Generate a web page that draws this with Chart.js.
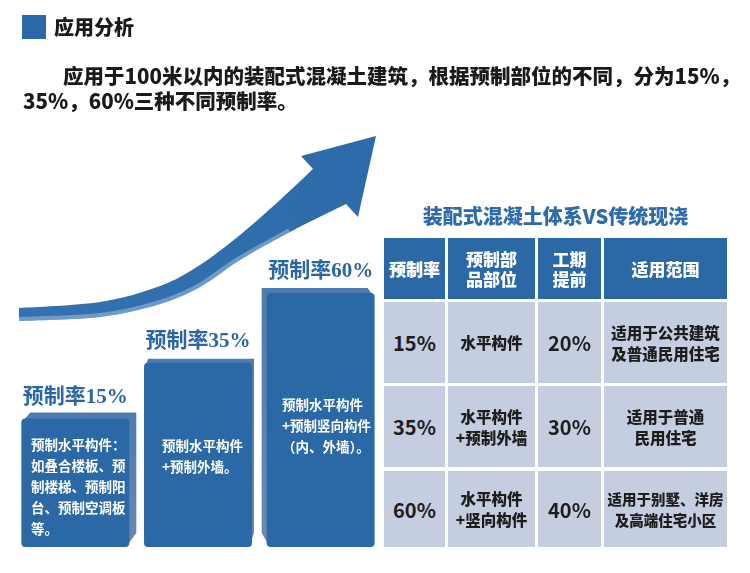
<!DOCTYPE html>
<html>
<head>
<meta charset="utf-8">
<script src="https://cdn.jsdelivr.net/npm/chart.js@4/dist/chart.umd.min.js"></script>
<style>
  html, body { margin:0; padding:0; background:#fff; }
  body { width:750px; height:573px; position:relative; overflow:hidden;
         font-family:"Noto Sans CJK SC","Noto Sans",sans-serif; }
  #c { position:absolute; left:0; top:0; }
  .abs { position:absolute; }
  #sq { left:22px; top:15px; width:24px; height:24px; background:#2b6aa9; }
  #ttl { left:54px; top:13px; font-size:20px; font-weight:900; color:#1a1a1a; line-height:28px; }
  #para { left:23px; top:63px; width:725px; font-size:20.5px; font-weight:900; color:#1a1a1a;
          line-height:25px; text-indent:40px; }
  #tt { left:384px; top:203px; width:343px; text-align:center; font-size:20px; font-weight:900;
        color:#2e6bab; line-height:26px; }
  .cell { position:absolute; display:flex; align-items:center; justify-content:center;
          text-align:center; font-weight:900; box-sizing:border-box; }
  .hd { background:#2b68a6; color:#fff; font-size:17px; line-height:20px; }
  .bd { background:#c5cde1; color:#1d1d1d; font-size:15.5px; line-height:21px; }
  .pct { font-size:20px; font-weight:700; }
</style>
</head>
<body>
<canvas id="c" width="750" height="573"></canvas>
<div id="sq" class="abs"></div>
<div id="ttl" class="abs">应用分析</div>
<div id="para" class="abs">应用于100米以内的装配式混凝土建筑，根据预制部位的不同，分为15%，35%，60%三种不同预制率。</div>
<div id="tt" class="abs">装配式混凝土体系VS传统现浇</div>
<div id="table"></div>
<script>
// ---- data ----
const categories = ['预制率15%', '预制率35%', '预制率60%'];
const rates = [15, 35, 60];
const barNotes = [
  ['预制水平构件：', '如叠合楼板、预', '制楼梯、预制阳', '台、预制空调板', '等。'],
  ['预制水平构件', '+预制外墙。'],
  ['预制水平构件', '+预制竖向构件', '（内、外墙）。']
];
const tableHeaders = ['预制率', '预制部\n品部位', '工期\n提前', '适用范围'];
const tableRates = ['15%', '35%', '60%'];
const tableParts = ['水平构件', '水平构件\n+预制外墙', '水平构件\n+竖向构件'];
const tableLead = ['20%', '30%', '40%'];
const tableScope = ['适用于公共建筑\n及普通民用住宅', '适用于普通\n民用住宅', '适用于别墅、洋房\n及高端住宅小区'];

// ---- table (HTML) ----
const colX = [[384, 61], [448, 87], [538, 63], [604, 123]];
const rowY = [[238, 61], [302, 81], [386, 81], [471, 76]];
const tbl = document.getElementById('table');
function addCell(r, c, text, cls, extraStyle) {
  const d = document.createElement('div');
  d.className = 'cell ' + cls;
  d.style.left = colX[c][0] + 'px'; d.style.width = colX[c][1] + 'px';
  d.style.top = rowY[r][0] + 'px'; d.style.height = rowY[r][1] + 'px';
  if (extraStyle) d.style.cssText += extraStyle;
  d.innerHTML = text.split('\n').join('<br>');
  tbl.appendChild(d);
}
tableHeaders.forEach((h, c) => addCell(0, c, h, 'hd'));
for (let i = 0; i < tableRates.length; i++) {
  addCell(i + 1, 0, tableRates[i], 'bd pct');
  addCell(i + 1, 1, tableParts[i], 'bd');
  addCell(i + 1, 2, tableLead[i], 'bd pct');
  addCell(i + 1, 3, tableScope[i], 'bd', i === 2 ? 'font-size:14.5px;' : '');
}

// ---- drawing helpers ----
function smoothPath(ctx, pts, move) {
  if (move) ctx.moveTo(pts[0][0], pts[0][1]); else ctx.lineTo(pts[0][0], pts[0][1]);
  for (let i = 0; i < pts.length - 1; i++) {
    const p0 = pts[Math.max(0, i - 1)], p1 = pts[i], p2 = pts[i + 1], p3 = pts[Math.min(pts.length - 1, i + 2)];
    const c1x = p1[0] + (p2[0] - p0[0]) / 6, c1y = p1[1] + (p2[1] - p0[1]) / 6;
    const c2x = p2[0] - (p3[0] - p1[0]) / 6, c2y = p2[1] - (p3[1] - p1[1]) / 6;
    ctx.bezierCurveTo(c1x, c1y, c2x, c2y, p2[0], p2[1]);
  }
}
const arrowTop = [[19, 308], [100, 302], [160, 286], [200, 265], [240, 235], [280, 200], [313, 169]];
const arrowBot = [[346, 204], [290, 232], [240, 260], [200, 287], [160, 304], [100, 317], [19, 321]];

const decor = {
  id: 'decor',
  beforeDatasetsDraw(chart) {
    const ctx = chart.ctx;
    // arrow
    ctx.save();
    ctx.beginPath();
    smoothPath(ctx, arrowTop, true);
    ctx.lineTo(301, 156);
    ctx.lineTo(376, 136);
    ctx.lineTo(358, 217);
    ctx.lineTo(346, 204);
    smoothPath(ctx, arrowBot, false);
    ctx.closePath();
    const g = ctx.createLinearGradient(0, 320, 380, 130);
    g.addColorStop(0, '#3572b0');
    g.addColorStop(1, '#2d6aa9');
    ctx.fillStyle = g;
    ctx.fill();
    ctx.clip();
    ctx.beginPath();
    smoothPath(ctx, arrowBot.slice(1), true);
    ctx.strokeStyle = 'rgba(170,198,230,0.5)';
    ctx.lineWidth = 8;
    ctx.stroke();
    ctx.restore();

    // 3D side faces of bars
    const meta = chart.getDatasetMeta(0);
    const offs = [[7, -6], [2, -4], [-5, -5]];
    meta.data.forEach((b, i) => {
      const l = b.x - b.width / 2, r = b.x + b.width / 2, t = b.y, bt = b.base;
      const [dx, dy] = offs[i];
      ctx.save();
      ctx.beginPath();
      if (dx >= 0) {
        ctx.moveTo(l + 2, t + 2);
        ctx.lineTo(l + 2 + dx, t + dy);
        ctx.lineTo(r + dx, t + dy);
        ctx.lineTo(r + dx, bt - 14);
        ctx.lineTo(r - 2, bt - 2);
      } else {
        ctx.moveTo(r - 2, t + 2);
        ctx.lineTo(r - 2 + dx, t + dy);
        ctx.lineTo(l + dx, t + dy);
        ctx.lineTo(l + dx, bt - 14);
        ctx.lineTo(l + 2, bt - 2);
      }
      ctx.closePath();
      const sg = ctx.createLinearGradient(0, t, 0, bt);
      sg.addColorStop(0, '#4f7cb0');
      sg.addColorStop(1, '#6a88b3');
      ctx.fillStyle = sg;
      ctx.fill();
      ctx.restore();
    });
  },
  afterDatasetsDraw(chart) {
    const ctx = chart.ctx;
    const meta = chart.getDatasetMeta(0);
    const noteLeft = [31, 162, 282];
    const noteTop = [445, 446, 405];
    meta.data.forEach((b, i) => {
      ctx.save();
      ctx.fillStyle = '#2a66a5';
      ctx.font = 'bold 21px "Liberation Serif","Noto Sans CJK SC",serif';
      ctx.textAlign = 'center';
      ctx.textBaseline = 'middle';
      ctx.fillText(categories[i], b.x, b.y - 21);
      ctx.fillStyle = '#ffffff';
      ctx.font = 'bold 13.5px "Noto Sans CJK SC",sans-serif';
      ctx.textAlign = 'left';
      barNotes[i].forEach((line, k) => {
        ctx.fillText(line, noteLeft[i], noteTop[i] + k * 21);
      });
      ctx.restore();
    });
  }
};

const yMin = -31, yMax = 60;
new Chart(document.getElementById('c'), {
  type: 'bar',
  data: {
    labels: categories,
    datasets: [{
      data: rates,
      base: yMin,
      backgroundColor: '#2b68a6',
      borderRadius: 4,
      borderSkipped: false,
      barPercentage: 0.88,
      categoryPercentage: 1
    }]
  },
  options: {
    responsive: false,
    animation: false,
    layout: { padding: { left: 14, right: 368, top: 293, bottom: 26 } },
    plugins: { legend: { display: false }, tooltip: { enabled: false } },
    scales: {
      x: { display: false },
      y: { display: false, min: yMin, max: yMax }
    }
  },
  plugins: [decor]
});
</script>
</body>
</html>
